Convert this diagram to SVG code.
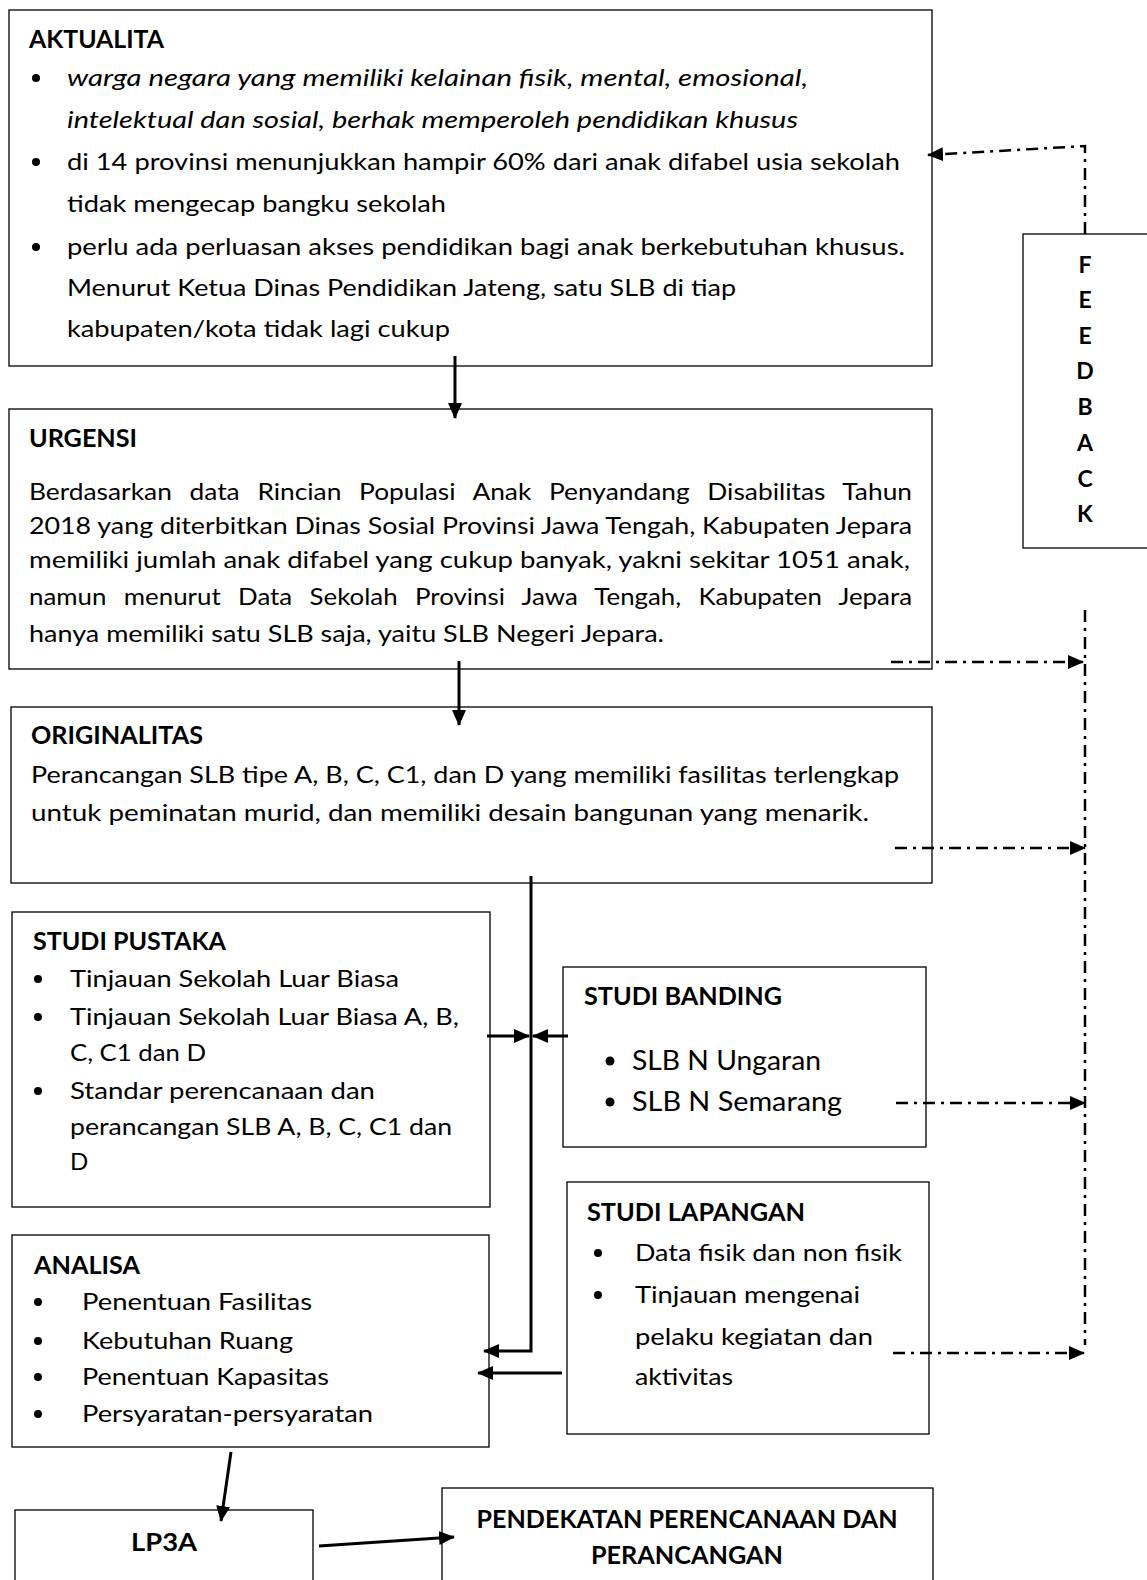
<svg xmlns="http://www.w3.org/2000/svg" width="1147" height="1580" viewBox="0 0 1147 1580">
<style>
.box{fill:#fff;stroke:#000;stroke-width:1.3}
.t{font-family:Lato,"Open Sans","Liberation Sans",sans-serif;font-size:24px;fill:#000}
.b{font-weight:bold}
.i{font-style:italic}
.dot{fill:#000}
.solid{stroke:#000;stroke-width:3;fill:none}
.dash{stroke:#000;stroke-width:2.5;fill:none;stroke-dasharray:12 6 3 6}
</style>
<defs>
<marker id="ah" markerUnits="userSpaceOnUse" markerWidth="16" markerHeight="14" refX="15" refY="7" orient="auto"><path d="M0,0 L16,7 L0,14 Z" fill="#000"/></marker>
<marker id="dh" markerUnits="userSpaceOnUse" markerWidth="16" markerHeight="14" refX="15" refY="7" orient="auto"><path d="M0,0 L16,7 L0,14 Z" fill="#000"/></marker>
</defs>
<rect width="1147" height="1580" fill="#fff"/>

<g id="aktualita">
<rect class="box" x="9" y="10" width="923" height="356"/>
<text class="t b" x="29" y="48" textLength="135" lengthAdjust="spacingAndGlyphs">AKTUALITA</text>
<circle class="dot" cx="36" cy="78" r="4"/>
<text class="t i" x="67" y="86" textLength="741" lengthAdjust="spacingAndGlyphs">warga negara yang memiliki kelainan fisik, mental, emosional,</text>
<text class="t i" x="67" y="128" textLength="731" lengthAdjust="spacingAndGlyphs">intelektual dan sosial, berhak memperoleh pendidikan khusus</text>
<circle class="dot" cx="36" cy="162" r="4"/>
<text class="t" x="67" y="170" textLength="833" lengthAdjust="spacingAndGlyphs">di 14 provinsi menunjukkan hampir 60% dari anak difabel usia sekolah</text>
<text class="t" x="67" y="212" textLength="379" lengthAdjust="spacingAndGlyphs">tidak mengecap bangku sekolah</text>
<circle class="dot" cx="36" cy="247" r="4"/>
<text class="t" x="67" y="255" textLength="838" lengthAdjust="spacingAndGlyphs">perlu ada perluasan akses pendidikan bagi anak berkebutuhan khusus.</text>
<text class="t" x="67" y="296" textLength="669" lengthAdjust="spacingAndGlyphs">Menurut Ketua Dinas Pendidikan Jateng, satu SLB di tiap</text>
<text class="t" x="67" y="337" textLength="383" lengthAdjust="spacingAndGlyphs">kabupaten/kota tidak lagi cukup</text>
</g>

<g id="urgensi">
<rect class="box" x="9" y="409" width="923" height="260"/>
<text class="t b" x="29" y="447" textLength="108" lengthAdjust="spacingAndGlyphs">URGENSI</text>
<text class="t" x="29" y="500" word-spacing="10" textLength="883" lengthAdjust="spacingAndGlyphs">Berdasarkan data Rincian Populasi Anak Penyandang Disabilitas Tahun</text>
<text class="t" x="29" y="534" textLength="883" lengthAdjust="spacingAndGlyphs">2018 yang diterbitkan Dinas Sosial Provinsi Jawa Tengah, Kabupaten Jepara</text>
<text class="t" x="29" y="568" textLength="881" lengthAdjust="spacingAndGlyphs">memiliki jumlah anak difabel yang cukup banyak, yakni sekitar 1051 anak,</text>
<text class="t" x="29" y="605" word-spacing="10" textLength="883" lengthAdjust="spacingAndGlyphs">namun menurut Data Sekolah Provinsi Jawa Tengah, Kabupaten Jepara</text>
<text class="t" x="29" y="642" textLength="635" lengthAdjust="spacingAndGlyphs">hanya memiliki satu SLB saja, yaitu SLB Negeri Jepara.</text>
</g>

<g id="originalitas">
<rect class="box" x="11" y="707" width="921" height="176"/>
<text class="t b" x="31" y="744" textLength="172" lengthAdjust="spacingAndGlyphs">ORIGINALITAS</text>
<text class="t" x="31" y="783" textLength="868" lengthAdjust="spacingAndGlyphs">Perancangan SLB tipe A, B, C, C1, dan D yang memiliki fasilitas terlengkap</text>
<text class="t" x="31" y="821" textLength="838" lengthAdjust="spacingAndGlyphs">untuk peminatan murid, dan memiliki desain  bangunan yang menarik.</text>
</g>

<g id="studi-pustaka">
<rect class="box" x="12" y="912" width="478" height="295"/>
<text class="t b" x="33" y="950" textLength="193" lengthAdjust="spacingAndGlyphs">STUDI PUSTAKA</text>
<circle class="dot" cx="38" cy="979" r="4"/>
<text class="t" x="70" y="987" textLength="329" lengthAdjust="spacingAndGlyphs">Tinjauan Sekolah Luar Biasa</text>
<circle class="dot" cx="38" cy="1017" r="4"/>
<text class="t" x="70" y="1025" textLength="389" lengthAdjust="spacingAndGlyphs">Tinjauan Sekolah Luar Biasa A, B,</text>
<text class="t" x="70" y="1061" textLength="136" lengthAdjust="spacingAndGlyphs">C, C1 dan D</text>
<circle class="dot" cx="38" cy="1091" r="4"/>
<text class="t" x="70" y="1099" textLength="305" lengthAdjust="spacingAndGlyphs">Standar perencanaan dan</text>
<text class="t" x="70" y="1135" textLength="382" lengthAdjust="spacingAndGlyphs">perancangan SLB A, B, C, C1 dan</text>
<text class="t" x="70" y="1170">D</text>
</g>

<g id="studi-banding">
<rect class="box" x="563" y="967" width="363" height="180"/>
<text class="t b" x="584" y="1005" textLength="198" lengthAdjust="spacingAndGlyphs">STUDI BANDING</text>
<circle class="dot" cx="610" cy="1061" r="4.5"/>
<text class="t" x="632" y="1070" style="font-size:27px" textLength="189" lengthAdjust="spacingAndGlyphs">SLB N Ungaran</text>
<circle class="dot" cx="610" cy="1102" r="4.5"/>
<text class="t" x="632" y="1111" style="font-size:27px" textLength="210" lengthAdjust="spacingAndGlyphs">SLB N Semarang</text>
</g>

<g id="studi-lapangan">
<rect class="box" x="567" y="1182" width="362" height="252"/>
<text class="t b" x="587" y="1221" textLength="218" lengthAdjust="spacingAndGlyphs">STUDI LAPANGAN</text>
<circle class="dot" cx="598" cy="1253" r="4"/>
<text class="t" x="635" y="1261" textLength="267" lengthAdjust="spacingAndGlyphs">Data fisik dan non fisik</text>
<circle class="dot" cx="598" cy="1295" r="4"/>
<text class="t" x="635" y="1303" textLength="225" lengthAdjust="spacingAndGlyphs">Tinjauan mengenai</text>
<text class="t" x="635" y="1345" textLength="238" lengthAdjust="spacingAndGlyphs">pelaku kegiatan dan</text>
<text class="t" x="635" y="1385" textLength="98" lengthAdjust="spacingAndGlyphs">aktivitas</text>
</g>

<g id="analisa">
<rect class="box" x="12" y="1235" width="477" height="212"/>
<text class="t b" x="34" y="1274" textLength="106" lengthAdjust="spacingAndGlyphs">ANALISA</text>
<circle class="dot" cx="38" cy="1302" r="4"/>
<text class="t" x="82" y="1310" textLength="230" lengthAdjust="spacingAndGlyphs">Penentuan Fasilitas</text>
<circle class="dot" cx="38" cy="1341" r="4"/>
<text class="t" x="82" y="1349" textLength="211" lengthAdjust="spacingAndGlyphs">Kebutuhan Ruang</text>
<circle class="dot" cx="38" cy="1377" r="4"/>
<text class="t" x="82" y="1385" textLength="247" lengthAdjust="spacingAndGlyphs">Penentuan Kapasitas</text>
<circle class="dot" cx="38" cy="1414" r="4"/>
<text class="t" x="82" y="1422" textLength="291" lengthAdjust="spacingAndGlyphs">Persyaratan-persyaratan</text>
</g>

<g id="lp3a">
<rect class="box" x="15" y="1510" width="298" height="80"/>
<text class="t b" x="164" y="1551" text-anchor="middle" textLength="66" lengthAdjust="spacingAndGlyphs">LP3A</text>
</g>

<g id="pendekatan">
<rect class="box" x="442" y="1488" width="491" height="102"/>
<text class="t b" x="687" y="1528" text-anchor="middle" textLength="421" lengthAdjust="spacingAndGlyphs">PENDEKATAN PERENCANAAN DAN</text>
<text class="t b" x="687" y="1564" text-anchor="middle" textLength="192" lengthAdjust="spacingAndGlyphs">PERANCANGAN</text>
</g>

<g id="feedback">
<rect class="box" x="1023" y="234" width="130" height="314"/>
<g class="t b" text-anchor="middle" style="font-size:23px">
<text x="1085" y="273">F</text>
<text x="1085" y="308">E</text>
<text x="1085" y="344">E</text>
<text x="1085" y="379">D</text>
<text x="1085" y="415">B</text>
<text x="1085" y="451">A</text>
<text x="1085" y="487">C</text>
<text x="1085" y="522">K</text>
</g>
</g>

<g id="connectors">
<line class="solid" x1="455" y1="356" x2="455" y2="418" marker-end="url(#ah)"/>
<line class="solid" x1="459" y1="661" x2="459" y2="725" marker-end="url(#ah)"/>
<polyline class="solid" points="531,876 531,1351 484,1351" marker-end="url(#ah)"/>
<line class="solid" x1="487" y1="1036" x2="529" y2="1036" marker-end="url(#ah)"/>
<line class="solid" x1="568" y1="1036" x2="533" y2="1036" marker-end="url(#ah)"/>
<line class="solid" x1="562" y1="1373" x2="478" y2="1373" marker-end="url(#ah)"/>
<line class="solid" x1="231" y1="1452" x2="221" y2="1521" marker-end="url(#ah)"/>
<line class="solid" x1="319" y1="1546" x2="454" y2="1537" marker-end="url(#ah)"/>

<polyline class="dash" points="1085,234 1085,146 928,155" marker-end="url(#dh)"/>
<line class="dash" x1="1085" y1="610" x2="1085" y2="1345"/>
<line class="dash" x1="891" y1="662" x2="1083" y2="662" marker-end="url(#dh)"/>
<line class="dash" x1="895" y1="848" x2="1085" y2="848" marker-end="url(#dh)"/>
<line class="dash" x1="896" y1="1103" x2="1085" y2="1103" marker-end="url(#dh)"/>
<line class="dash" x1="893" y1="1353" x2="1084" y2="1353" marker-end="url(#dh)"/>
</g>
</svg>
